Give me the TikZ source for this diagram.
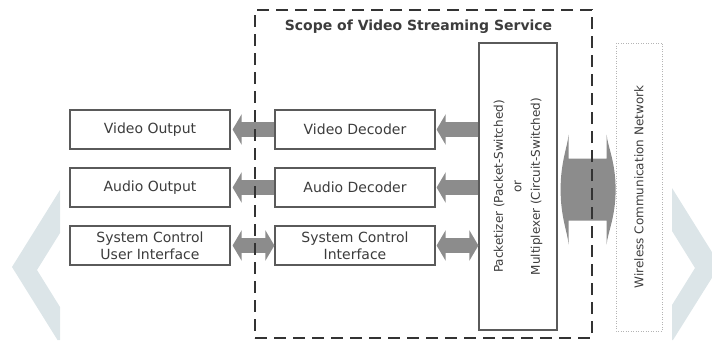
\documentclass[tikz,border=0pt]{standalone}
\usepackage{fontspec}
\setmainfont{DejaVu Sans}
\usetikzlibrary{arrows.meta}
\definecolor{arrgray}{HTML}{8C8C8C}
\definecolor{boxline}{HTML}{5A5A5A}
\definecolor{txt}{HTML}{3C3C3C}
\definecolor{chev}{HTML}{DCE5E8}
\definecolor{scopeline}{HTML}{333333}
\definecolor{dotline}{HTML}{B4B4B4}
\begin{document}
\begin{tikzpicture}[x=1pt,y=-1pt,
  blk/.style={draw=boxline, line width=1.2pt, fill=white, minimum width=160pt,
    minimum height=39pt, inner sep=0pt, text=txt,
    font=\fontsize{14}{17}\selectfont, align=center},
  fat/.style={draw=arrgray, line width=15pt, -{Triangle[width=30pt,length=9pt]}},
  fatboth/.style={draw=arrgray, line width=15pt, {Triangle[width=30pt,length=9pt]}-{Triangle[width=30pt,length=9pt]}},
  scopebox/.style={draw=scopeline, line width=1.8pt, dash pattern=on 12pt off 7pt},
  dotbox/.style={draw=dotline, line width=1pt, dash pattern=on 1pt off 1.5pt},
  rottext/.style={text=txt, font=\fontsize{12}{18.5}\selectfont, align=center, rotate=90}
]
\useasboundingbox (0,0) rectangle (712,340);
% background chevrons
\fill[chev] (60,190) -- (12,267) -- (57.5,340) -- (60,340) -- (60,307) -- (37,270) -- (60,233) -- cycle;
\fill[chev] (672,188) -- (720,265) -- (673,340) -- (672,340) -- (672,305) -- (695,268) -- (672,231) -- cycle;

% blocks
\node[blk] (vout) at (150,129.5) {Video Output};
\node[blk] (aout) at (150,187.5) {Audio Output};
\node[blk] (sui)  at (150,245.5) {System Control\\User Interface};
\node[blk] (vdec) at (355,129.5) {Video Decoder};
\node[blk] (adec) at (355,187.5) {Audio Decoder};
\node[blk] (sci)  at (355,245.5) {System Control\\Interface};
\node[blk, rottext, minimum width=287pt, minimum height=78pt] (pack) at (518,186.5)
  {Packetizer (Packet-Switched)\\or\\Multiplexer (Circuit-Switched)};
\node[dotbox, rottext, minimum width=288pt, minimum height=46pt, inner sep=0pt] (wcn) at (639,187)
  {Wireless Communication Network};

% arrows
\draw[fat] (vdec.west) -- ([xshift=2pt]vout.east);
\draw[fat] (adec.west) -- ([xshift=2pt]aout.east);
\draw[fatboth] ([xshift=2pt]sui.east) -- (sci.west);
\draw[fat] (pack.north |- vdec.east) -- ([xshift=1pt]vdec.east);
\draw[fat] (pack.north |- adec.east) -- ([xshift=1pt]adec.east);
\draw[fatboth] ([xshift=1pt]sci.east) -- (pack.north |- sci.east);

% big double arrow between packetizer and network
\fill[arrgray] ([xshift=3pt,yshift=-3pt]pack.south)
  .. controls +(0,-28) and +(-1,12) .. ++(8,-55)
  -- ++(0,24) -- ++(38,0) -- ++(0,-24)
  .. controls +(1,12) and +(0,-28) .. ++(9,55)
  .. controls +(0,28) and +(1,-12) .. ++(-9,55)
  -- ++(0,-24) -- ++(-38,0) -- ++(0,24)
  .. controls +(-1,-12) and +(0,28) .. cycle;

% scope
\node[scopebox, minimum width=337pt, minimum height=328pt, inner sep=0pt] (scope) at (423.5,174) {};
\node[text=txt, font=\fontsize{14}{16}\selectfont\bfseries] (title) at ([xshift=-5pt,yshift=-18pt]scope.north)
  {Scope of Video Streaming Service};
\end{tikzpicture}
\end{document}
